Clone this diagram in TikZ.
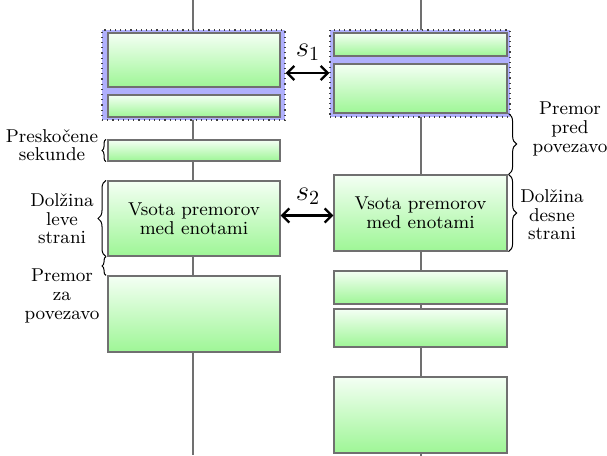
\documentclass[tikz,border=0pt]{standalone}
\usetikzlibrary{fit,decorations.pathreplacing,arrows.meta}
\definecolor{framegray}{RGB}{112,112,112}
\definecolor{boxtop}{RGB}{244,255,244}
\definecolor{boxbot}{RGB}{158,246,150}
\definecolor{groupfill}{RGB}{176,176,252}
\begin{document}
\begin{tikzpicture}[x=0.5pt,y=-0.5pt,
  unit/.style={rectangle, draw=framegray, line width=0.6pt,
    top color=boxtop, bottom color=boxbot, inner sep=0pt},
  group/.style={rectangle, draw=black!75, dotted, line width=0.6pt,
    fill=groupfill, inner sep=0pt},
  timeline/.style={draw=framegray, line width=0.8pt},
  gap/.style={{Straight Barb[length=3.5pt,width=7pt]}-{Straight Barb[length=3.5pt,width=7pt]},
    line width=1.2pt},
  bigbrace/.style={decorate, decoration={brace, amplitude=4pt}, line width=0.5pt},
  smallbrace/.style={decorate, decoration={brace, amplitude=2pt}, line width=0.5pt},
  note/.style={font=\fontsize{9.3}{9.3}\selectfont, align=center, inner sep=0pt},
  gaplabel/.style={font=\fontsize{14}{14}\selectfont, inner sep=0pt},
]
\useasboundingbox (0,0) rectangle (607,456);

% timelines of the two sides
\coordinate (Ltop) at (193,0);
\coordinate (Lbot) at (193,455);
\coordinate (Rtop) at (421,0);
\coordinate (Rbot) at (421,456);
\draw[timeline] (Ltop) -- (Lbot);
\draw[timeline] (Rtop) -- (Rbot);

% matched groups (drawn first, behind the units)
\node[group, fit={(102,30) (285,120)}] (LB) {};
\node[group, fit={(330,30) (510,117)}] (RB) {};

% left side units
\node[unit, fit={(108,33) (280,87)}] (L1) {};
\node[unit, fit={(108,95) (280,117)}] (L2) {};
\node[unit, fit={(108,140) (280,161)}] (L3) {};
\node[unit, fit={(108,181) (280,256)}] (L4) {};
\node[unit, fit={(108,276) (280,352)}] (L5) {};

% right side units
\node[unit, fit={(334,33) (507,56)}] (R1) {};
\node[unit, fit={(334,64) (507,113)}] (R2) {};
\node[unit, fit={(334,175) (507,251)}] (R3) {};
\node[unit, fit={(334,271) (507,304)}] (R4) {};
\node[unit, fit={(334,309) (507,347)}] (R5) {};
\node[unit, fit={(334,377) (507,453)}] (R6) {};

% texts inside the units
\node[note] (L4txt) at (L4.center) {Vsota premorov\\med enotami};
\node[note] (R3txt) at (R3.center) {Vsota premorov\\med enotami};

% offsets between the sides
\draw[gap] ([yshift=1pt]LB.east) -- ([yshift=1pt]LB.east -| RB.west);
\node[gaplabel] (s1) at (308,52) {$s_1$};
\draw[gap] ([yshift=1.5pt]L4.east) -- ([yshift=1.5pt]L4.east -| R3.west);
\node[gaplabel] (s2) at (308,196) {$s_2$};

% braces on the left
\draw[smallbrace] ([xshift=-0.7pt]L3.south west) -- ([xshift=-0.7pt]L3.north west);
\draw[bigbrace] ([xshift=-0.7pt]L4.south west) -- ([xshift=-0.7pt]L4.north west);
\draw[smallbrace] ([xshift=-0.7pt]L5.north west) -- ([xshift=-0.7pt]L4.south west);

% braces on the right
\draw[bigbrace] ([xshift=0.5pt]R2.south east) -- ([xshift=0.5pt]R3.north east);
\draw[bigbrace] ([xshift=0.5pt]R3.north east) -- ([xshift=0.5pt]R3.south east);

% brace labels
\node[note] (skip) at (52,145) {Preskočene\\sekunde};
\node[note] (lenL) at (62,219) {Dolžina\\leve\\strani};
\node[note] (gapL) at (62,296) {Premor\\za\\povezavo};
\node[note] (gapR) at (570,129) {Premor\\pred\\povezavo};
\node[note] (lenR) at (552,215) {Dolžina\\desne\\strani};
\end{tikzpicture}
\end{document}
